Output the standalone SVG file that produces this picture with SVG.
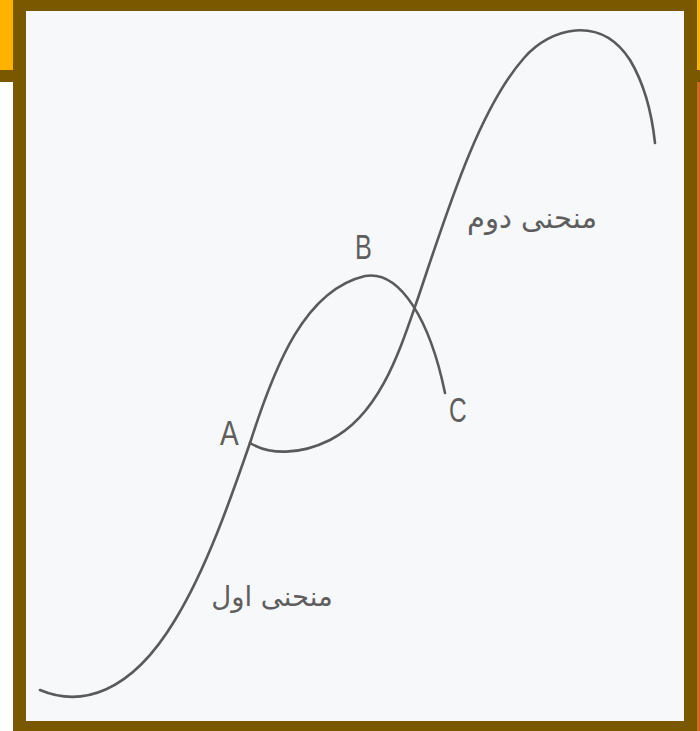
<svg xmlns="http://www.w3.org/2000/svg" width="700" height="731" viewBox="0 0 700 731">
<style>
.curve{fill:none;stroke:#5a5a5a;stroke-width:2.6;stroke-linecap:round}
.lbl{font-family:"Liberation Sans","DejaVu Sans",sans-serif;font-size:35px;fill:#5e5e5e}
.ar{font-family:"DejaVu Sans",sans-serif;fill:#5e5e5e}
</style>
<g id="frame">
<rect x="0" y="0" width="700" height="731" fill="#7a5800"/>
<rect x="0" y="0" width="13" height="70" fill="#ffb300"/>
<rect x="0" y="82" width="13" height="649" fill="#ffffff"/>
<rect x="697" y="0" width="3" height="70" fill="#ffb300"/>
<rect x="697" y="82" width="3" height="649" fill="#d2691e"/>
<rect x="26" y="11" width="658" height="710" fill="#f7f8fa"/>
</g>
<g id="connectors">
<path id="curve1" class="curve" d="M40,690 C80,707 130,695 175,620 C207,568 232,495 251,440 C275,365 305,290 365,276 C400,270 430,320 445,393"/>
<path id="curve2" class="curve" d="M250,443 C270,455 300,455 330,440 C380,415 400,350 418,298 C446,215 478,110 524,58 C550,28 600,14 630,60 C645,85 652,115 655,143"/>
</g>
<g id="label-A"><text class="lbl" transform="translate(220,445) scale(0.8,1)">A</text></g>
<g id="label-B"><text class="lbl" transform="translate(355,259) scale(0.72,1)">B</text></g>
<g id="label-C"><text class="lbl" transform="translate(449,422) scale(0.7,1)">C</text></g>
<g id="label-curve2"><text class="ar" x="532" y="228" font-size="29" text-anchor="middle">منحنی دوم</text></g>
<g id="label-curve1"><text class="ar" x="272" y="606" font-size="27.5" text-anchor="middle">منحنی اول</text></g>
</svg>
